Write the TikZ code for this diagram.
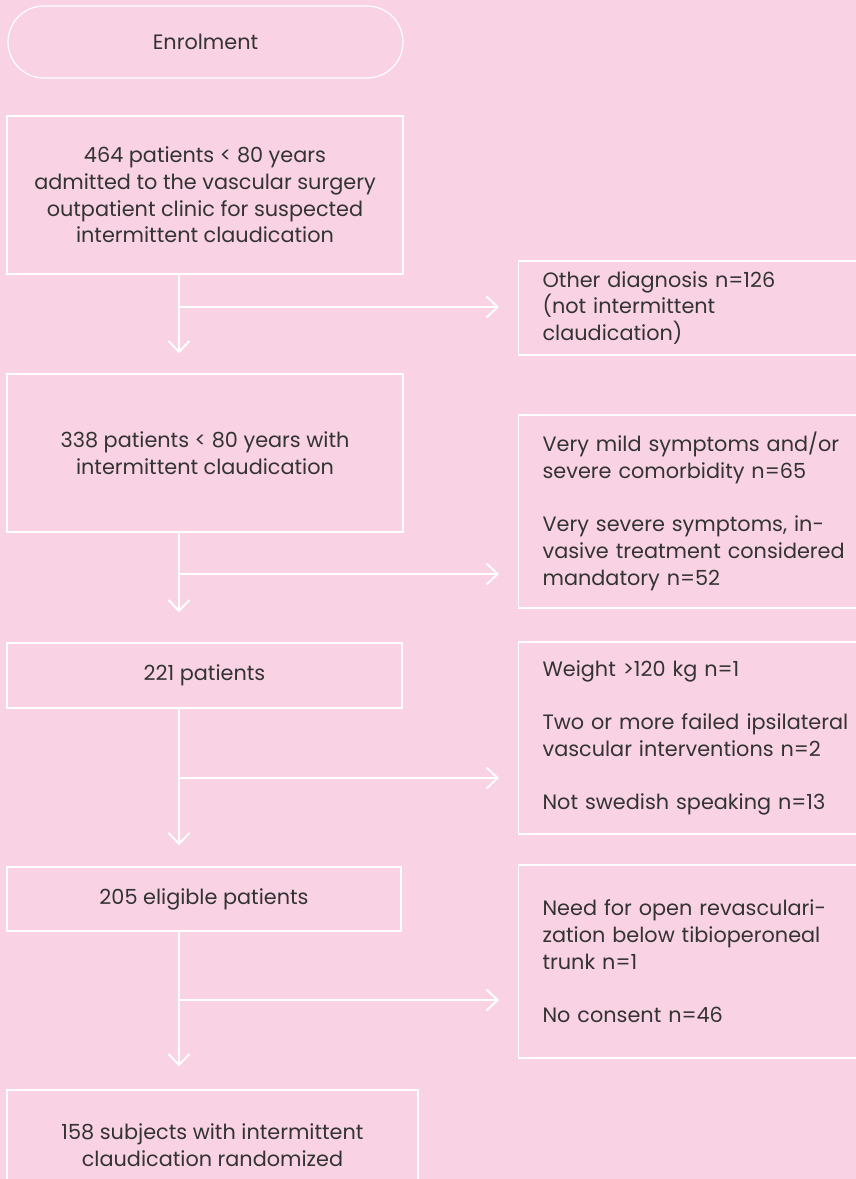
\documentclass[tikz,border=0pt]{standalone}
\usepackage{fontspec}
\setmainfont{Poppins}
\usetikzlibrary{arrows.meta}
\definecolor{bgpink}{HTML}{F9D3E3}
\definecolor{txtgrey}{HTML}{333333}
\tikzset{
  stagebox/.style={draw=white,line width=1.2pt,text=txtgrey,align=center,inner sep=0pt,
    font=\fontsize{20.8}{26.7}\selectfont},
  exclbox/.style={draw=white,line width=1.2pt,text=txtgrey,align=left,anchor=west,
    text width=340pt,inner xsep=24pt,inner ysep=0pt,font=\fontsize{20.8}{26.7}\selectfont},
  flow/.style={draw=white,line width=2pt,-{Straight Barb[length=11pt,width=21pt,line width=2pt]}}
}
\begin{document}
\begin{tikzpicture}[x=1pt,y=-1pt]
\useasboundingbox (0,0) rectangle (856,1179);
\fill[bgpink] (0,0) rectangle (856,1179);
\begin{scope}
\clip (0,0) rectangle (856,1179);
% Drawing the main column
\node[stagebox,rounded corners=36pt,minimum width=395pt,minimum height=72pt] (enrol) at (205.5,42) {Enrolment};
\node[stagebox,minimum width=396pt,minimum height=158pt] (b1) at (205,195)
  {464 patients < 80 years\\admitted to the vascular surgery\\outpatient clinic for suspected\\intermittent claudication};
\node[stagebox,minimum width=396pt,minimum height=158pt] (b2) at (205,453)
  {338 patients < 80 years with\\intermittent claudication};
\node[stagebox,minimum width=395pt,minimum height=65pt] (b3) at (204.5,675.5) {221 patients};
\node[stagebox,minimum width=394pt,minimum height=64pt] (b4) at (204,899) {205 eligible patients};
\node[stagebox,minimum width=411pt,minimum height=110pt] (b5) at (212.5,1145)
  {158 subjects with intermittent\\claudication randomized};
% Drawing the exclusion column
\node[exclbox,minimum height=94pt] (r1) at (518,308)
  {Other diagnosis n=126\\(not intermittent\\claudication)};
\node[exclbox,minimum height=193pt] (r2) at (518,511.5)
  {Very mild symptoms and/or\\severe comorbidity n=65\\[26.7pt]Very severe symptoms, in-\\vasive treatment considered\\mandatory n=52};
\node[exclbox,minimum height=192pt] (r3) at (518,738)
  {Weight >120 kg n=1\\[26.7pt]Two or more failed ipsilateral\\vascular interventions n=2\\[26.7pt]Not swedish speaking n=13};
\node[exclbox,minimum height=193pt] (r4) at (518,961.5)
  {Need for open revasculari-\\zation below tibioperoneal\\trunk n=1\\[26.7pt]No consent n=46};
% Junctions on the down lines
\coordinate (j1) at (179,307);
\coordinate (j2) at (179,574);
\coordinate (j3) at (179,778);
\coordinate (j4) at (179,1000);
% Drawing arrows
\draw[flow,shorten >=20pt] (b1.south -| j1) -- (b2.north -| j1);
\draw[flow,shorten >=19pt] (j1) -- (r1.west |- j1);
\draw[flow,shorten >=30pt] (b2.south -| j2) -- (b3.north -| j2);
\draw[flow,shorten >=19pt] (j2) -- (r2.west |- j2);
\draw[flow,shorten >=21pt] (b3.south -| j3) -- (b4.north -| j3);
\draw[flow,shorten >=19pt] (j3) -- (r3.west |- j3);
\draw[flow,shorten >=23pt] (b4.south -| j4) -- (b5.north -| j4);
\draw[flow,shorten >=19pt] (j4) -- (r4.west |- j4);
\end{scope}
\end{tikzpicture}
\end{document}
